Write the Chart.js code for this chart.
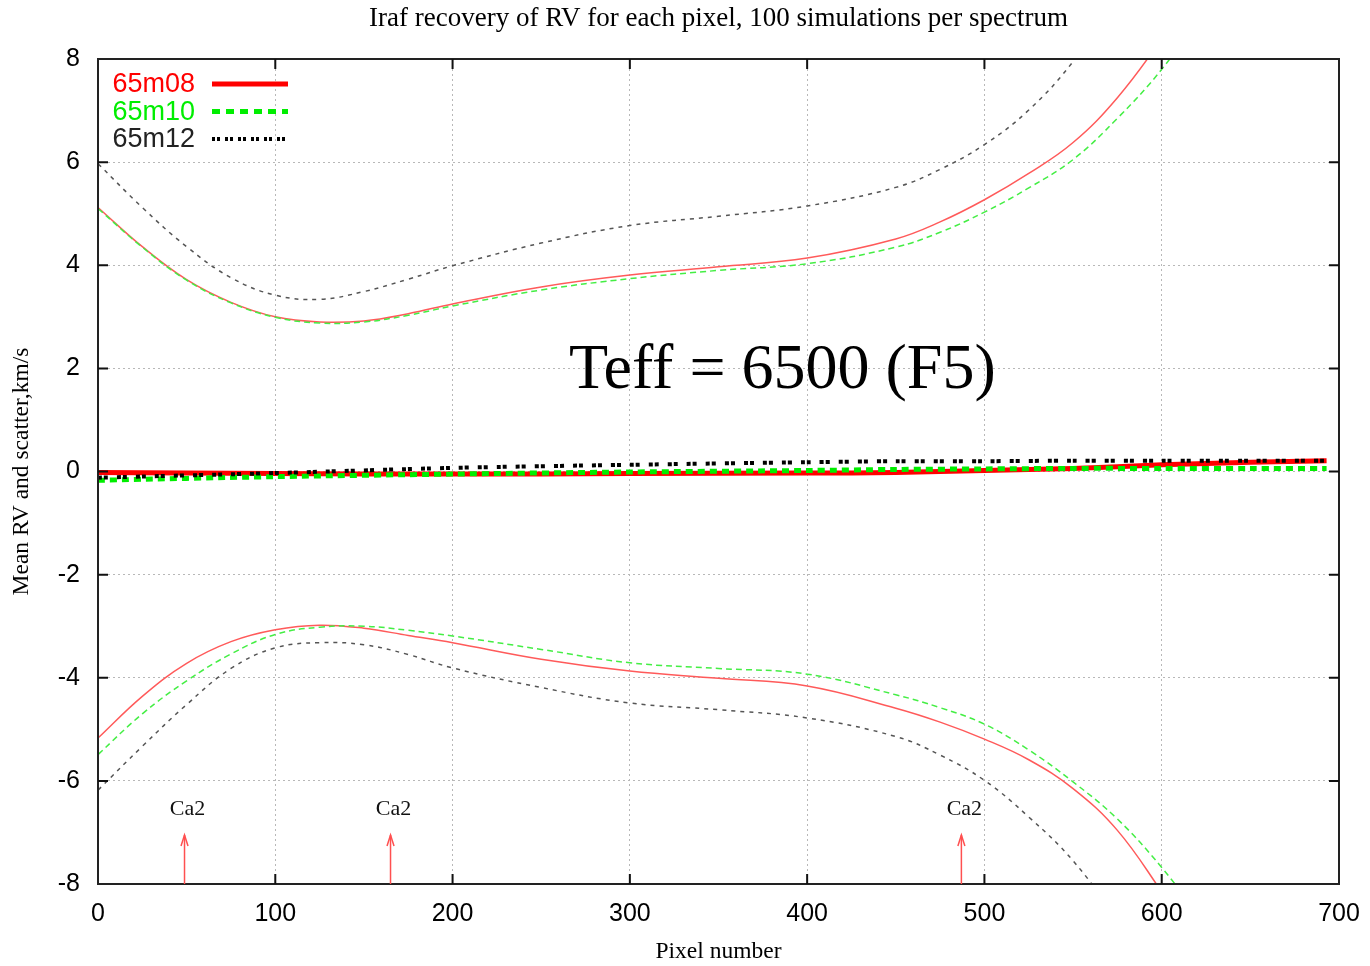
<!DOCTYPE html>
<html><head><meta charset="utf-8">
<script src="https://cdn.jsdelivr.net/npm/chart.js@4.4.1/dist/chart.umd.min.js"></script>
<style>html,body{margin:0;padding:0;background:#fff;overflow:hidden}#wrap{width:1370px;height:966px;position:relative}</style>
</head><body><div id="wrap"><canvas id="c"></canvas></div>
<script>
// ---- data ----
const pixelsEnv = [0,25,50,75,100,125,150,175,200,250,300,350,400,450,475,500,525,550,575,600,625];
const upper08 = [5.12,4.36,3.72,3.28,3.00,2.90,2.92,3.06,3.25,3.58,3.81,3.97,4.14,4.51,4.84,5.27,5.78,6.38,7.25,8.4,9.8];
const upper10 = [5.10,4.35,3.71,3.27,2.99,2.88,2.90,3.03,3.21,3.52,3.74,3.90,4.03,4.35,4.64,5.03,5.50,6.05,6.85,7.8,9.0];
const upper12 = [5.97,5.12,4.36,3.76,3.42,3.34,3.49,3.73,3.99,4.43,4.77,4.95,5.15,5.51,5.86,6.34,7.01,7.95,9.2,10.5,12];
const lower08 = [-5.17,-4.36,-3.72,-3.30,-3.07,-2.98,-3.04,-3.18,-3.32,-3.64,-3.87,-4.01,-4.16,-4.59,-4.86,-5.19,-5.59,-6.15,-6.96,-8.15,-9.4];
const lower10 = [-5.49,-4.70,-4.06,-3.54,-3.16,-3.02,-3.00,-3.08,-3.19,-3.45,-3.71,-3.82,-3.93,-4.33,-4.58,-4.90,-5.40,-6.02,-6.74,-7.68,-8.8];
const lower12 = [-6.18,-5.33,-4.52,-3.82,-3.42,-3.32,-3.36,-3.55,-3.81,-4.19,-4.49,-4.62,-4.78,-5.14,-5.50,-5.99,-6.70,-7.55,-8.7,-10,-11];

const pixelsMean = [0,100,200,300,400,450,500,550,600,650,693];
const mean08 = [-0.02,-0.04,-0.05,-0.04,-0.03,-0.02,0.02,0.06,0.13,0.18,0.21];
const mean10 = [-0.17,-0.10,-0.05,-0.01,0.02,0.04,0.05,0.06,0.06,0.06,0.06];
const mean12 = [-0.12,-0.03,0.07,0.13,0.18,0.20,0.20,0.21,0.21,0.21,0.21];

const seriesNames = ['65m08','65m10','65m12'];
const caPixels = [48.8, 165, 487];
const caLabel = 'Ca2';
const titleText = 'Iraf recovery of RV for each pixel, 100 simulations per spectrum';
const xTitle = 'Pixel number';
const yTitle = 'Mean RV and scatter,km/s';
const teffText = 'Teff = 6500 (F5)';

const pts = (xs, ys) => xs.map((x, i) => ({x, y: ys[i]}));

const RED = '#ff0000', GREEN = '#00ee00', BLACK = '#000000';
const RED_L = '#ff5a5a', GREEN_L = '#44ee44', GRAY_L = '#555555';

function env(data, color, dash, order) {
  return {data, borderColor: color, borderWidth: 1.5, borderDash: dash, pointRadius: 0,
    tension: 0.4, fill: false, order};
}
function mean(data, color, width, dash, order) {
  return {data, borderColor: color, borderWidth: width, borderDash: dash, pointRadius: 0,
    borderCapStyle: 'butt', tension: 0.3, fill: false, order};
}

const SERIF = '"Liberation Serif", "DejaVu Serif", serif';
const SANS = '"Liberation Sans", Arial, sans-serif';

const decor = {
  id: 'decor',
  afterDraw(chart) {
    const {ctx, chartArea: a, scales: {x, y}} = chart;
    ctx.save();
    // frame
    ctx.strokeStyle = '#222'; ctx.lineWidth = 2; ctx.setLineDash([]);
    ctx.strokeRect(a.left, a.top, a.right - a.left, a.bottom - a.top);
    // inward ticks
    ctx.lineWidth = 2; ctx.strokeStyle = '#111';
    x.ticks.forEach(t => {
      const px = x.getPixelForValue(t.value);
      if (t.value <= 0 || t.value >= 700) return;
      ctx.beginPath(); ctx.moveTo(px, a.bottom); ctx.lineTo(px, a.bottom - 10);
      ctx.moveTo(px, a.top); ctx.lineTo(px, a.top + 10); ctx.stroke();
    });
    y.ticks.forEach(t => {
      const py = y.getPixelForValue(t.value);
      if (t.value <= -8 || t.value >= 8) return;
      ctx.beginPath(); ctx.moveTo(a.left, py); ctx.lineTo(a.left + 10, py);
      ctx.moveTo(a.right, py); ctx.lineTo(a.right - 10, py); ctx.stroke();
    });
    // title
    ctx.fillStyle = '#000'; ctx.font = '27px ' + SERIF; ctx.textAlign = 'center'; ctx.textBaseline = 'middle';
    ctx.fillText(titleText, (a.left + a.right) / 2, 19);
    // Teff label
    ctx.font = '64px ' + SERIF;
    ctx.fillText(teffText, x.getPixelForValue(386), y.getPixelForValue(1.95));
    // Ca2 markers
    caPixels.forEach(p => {
      const px = x.getPixelForValue(p);
      const top = y.getPixelForValue(-7.05);
      ctx.strokeStyle = '#ff5050'; ctx.lineWidth = 1.5;
      ctx.beginPath(); ctx.moveTo(px, a.bottom); ctx.lineTo(px, top); ctx.stroke();
      ctx.beginPath(); ctx.moveTo(px - 3.5, top + 11); ctx.lineTo(px, top); ctx.lineTo(px + 3.5, top + 11); ctx.stroke();
      ctx.fillStyle = '#111'; ctx.font = '22px ' + SERIF; ctx.textAlign = 'center'; ctx.textBaseline = 'middle';
      ctx.fillText(caLabel, px + 3, y.getPixelForValue(-6.55));
    });
    // legend
    const legendColors = [RED, GREEN, BLACK];
    const legendDash = [[], [8, 6], [3, 2, 3, 5]];
    const legendWidth = [5, 5, 4];
    ctx.font = '27px ' + SANS; ctx.textAlign = 'right'; ctx.textBaseline = 'middle';
    seriesNames.forEach((n, i) => {
      const ly = 84 + i * 27.5;
      ctx.fillStyle = i === 2 ? '#222' : legendColors[i];
      ctx.fillText(n, 195, ly + 1);
      ctx.strokeStyle = legendColors[i]; ctx.lineWidth = legendWidth[i]; ctx.setLineDash(legendDash[i]);
      ctx.lineCap = 'butt';
      ctx.beginPath(); ctx.moveTo(212, ly); ctx.lineTo(288, ly); ctx.stroke();
    });
    ctx.restore();
  }
};

new Chart(document.getElementById('c'), {
  type: 'line',
  data: {
    datasets: [
      env(pts(pixelsEnv, upper08), RED_L, [], 5),
      env(pts(pixelsEnv, lower08), RED_L, [], 5),
      env(pts(pixelsEnv, upper10), GREEN_L, [6, 4], 4),
      env(pts(pixelsEnv, lower10), GREEN_L, [6, 4], 4),
      env(pts(pixelsEnv, upper12), GRAY_L, [4, 5], 3),
      env(pts(pixelsEnv, lower12), GRAY_L, [4, 5], 3),
      mean(pts(pixelsMean, mean08), RED, 5, [], 2),
      mean(pts(pixelsMean, mean10), GREEN, 5, [7, 5], 1),
      mean(pts(pixelsMean, mean12), BLACK, 4, [4, 2, 4, 9], 0)
    ]
  },
  options: {
    responsive: true, maintainAspectRatio: false, devicePixelRatio: 1, animation: false,
    layout: {padding: {top: 59, right: 31, left: 0, bottom: 0}},
    plugins: {legend: {display: false}, tooltip: {enabled: false}, title: {display: false}},
    scales: {
      x: {
        type: 'linear', min: 0, max: 700,
        ticks: {stepSize: 100, color: '#000', font: {family: SANS, size: 25}, padding: 15, maxRotation: 0},
        grid: {color: '#b8b8b8', lineWidth: 1, drawTicks: false},
        border: {display: false, dash: [2, 3]},
        title: {display: true, text: xTitle, color: '#000', font: {family: SERIF, size: 23.5}, padding: {top: 0, bottom: 0}},
        afterFit: s => { s.height = 82; s.paddingLeft = 0; s.paddingRight = 0; }
      },
      y: {
        type: 'linear', min: -8, max: 8,
        ticks: {stepSize: 2, color: '#000', font: {family: SANS, size: 25}, padding: 18},
        grid: {color: '#b8b8b8', lineWidth: 1, drawTicks: false},
        border: {display: false, dash: [2, 3]},
        title: {display: true, text: yTitle, color: '#000', font: {family: SERIF, size: 23.5}, padding: {top: 8, bottom: 0}},
        afterFit: s => { s.width = 98; }
      }
    }
  },
  plugins: [decor]
});
</script></body></html>
